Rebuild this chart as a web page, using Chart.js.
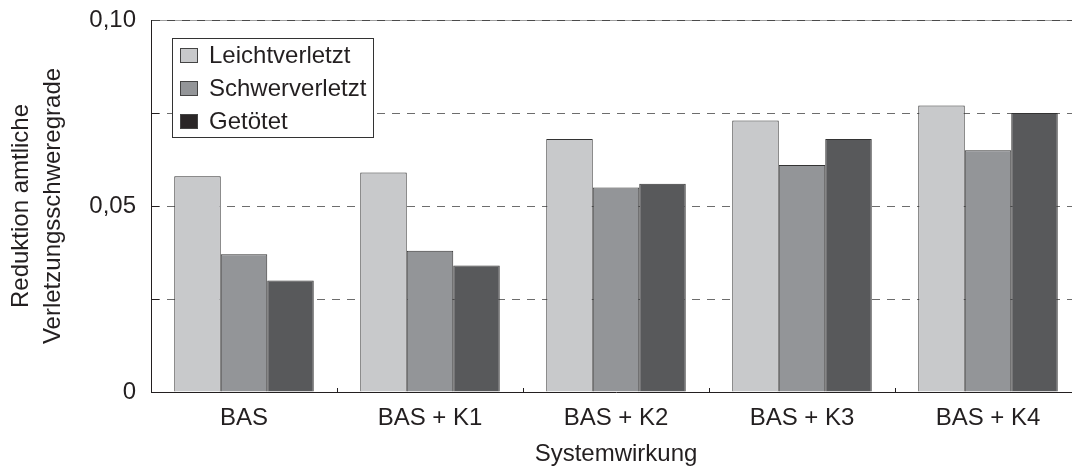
<!DOCTYPE html>
<html>
<head>
<meta charset="utf-8">
<script src="https://cdn.jsdelivr.net/npm/chart.js@4"></script>
<style>
  html, body { margin: 0; padding: 0; background: #fff; overflow: hidden; }
  #wrap { width: 1090px; height: 468px; }
</style>
</head>
<body>
<div id="wrap"><canvas id="chart"></canvas></div>
<script>
const categories = ['BAS', 'BAS + K1', 'BAS + K2', 'BAS + K3', 'BAS + K4'];
const leichtverletzt = [0.058, 0.059, 0.068, 0.073, 0.077];
const schwerverletzt = [0.037, 0.038, 0.055, 0.061, 0.065];
const getoetet = [0.030, 0.034, 0.056, 0.068, 0.075];
const seriesNames = ['Leichtverletzt', 'Schwerverletzt', 'Getötet'];
const yTickLabels = { '0': '0', '0.05': '0,05', '0.1': '0,10' };

const FONT = '"Liberation Sans", Arial, Helvetica, sans-serif';
const INK = '#231f20';
const fills = ['#c8c9cb', '#939598', '#58595b'];
const swatches = ['#c8c9cb', '#939598', '#2a2627'];

// solid light line under the dashed top gridline
const topLine = {
  id: 'topLine',
  beforeDraw(chart) {
    const ctx = chart.ctx, area = chart.chartArea;
    const py = Math.round(chart.scales.y.getPixelForValue(0.1)) + 0.5;
    ctx.save();
    ctx.strokeStyle = '#a0a0a0';
    ctx.lineWidth = 1;
    ctx.beginPath();
    ctx.moveTo(area.left, py);
    ctx.lineTo(area.right, py);
    ctx.stroke();
    ctx.restore();
  }
};

// legend box inside the plot, plus the small inward ticks
const extras = {
  id: 'extras',
  afterDraw(chart) {
    const ctx = chart.ctx;
    const area = chart.chartArea;
    const y = chart.scales.y, x = chart.scales.x;
    ctx.save();
    ctx.strokeStyle = INK;
    ctx.lineWidth = 1;
    [0.025, 0.05, 0.075].forEach(v => {
      const py = Math.round(y.getPixelForValue(v)) + 0.5;
      ctx.beginPath();
      ctx.moveTo(area.left, py);
      ctx.lineTo(area.left + 8, py);
      ctx.stroke();
    });
    for (let i = 1; i < categories.length; i++) {
      const px = Math.round((x.getPixelForValue(i - 1) + x.getPixelForValue(i)) / 2) + 0.5;
      ctx.beginPath();
      ctx.moveTo(px, area.bottom);
      ctx.lineTo(px, area.bottom - 4);
      ctx.stroke();
    }
    // legend
    const bx = area.left + 21, by = 38, bw = 201, bh = 99;
    ctx.fillStyle = '#fff';
    ctx.fillRect(bx, by, bw, bh);
    ctx.strokeStyle = '#333';
    ctx.strokeRect(bx + 0.5, by + 0.5, bw, bh);
    ctx.font = '24px ' + FONT;
    ctx.textBaseline = 'middle';
    seriesNames.forEach((name, i) => {
      const cy = by + 17 + i * 33;
      ctx.fillStyle = swatches[i];
      ctx.fillRect(bx + 8, cy - 7, 18, 15);
      ctx.strokeStyle = '#444';
      ctx.strokeRect(bx + 8.5, cy - 6.5, 17, 14);
      ctx.fillStyle = INK;
      ctx.fillText(name, bx + 37, cy + 1);
    });
    ctx.restore();
  }
};

new Chart(document.getElementById('chart'), {
  type: 'bar',
  data: {
    labels: categories,
    datasets: [
      { label: seriesNames[0], data: leichtverletzt, backgroundColor: fills[0] },
      { label: seriesNames[1], data: schwerverletzt, backgroundColor: fills[1] },
      { label: seriesNames[2], data: getoetet, backgroundColor: fills[2] }
    ].map(d => Object.assign(d, {
      borderColor: '#333',
      borderWidth: 1,
      categoryPercentage: 0.75,
      barPercentage: 1
    }))
  },
  options: {
    responsive: true,
    maintainAspectRatio: false,
    animation: false,
    layout: { padding: { top: 20, right: 9, left: 0, bottom: 0 } },
    plugins: {
      legend: { display: false },
      tooltip: { enabled: false }
    },
    scales: {
      x: {
        grid: { display: false },
        border: { display: true, color: INK, width: 1 },
        ticks: { color: INK, font: { family: FONT, size: 24 }, padding: 4 },
        title: {
          display: true,
          text: 'Systemwirkung',
          color: INK,
          font: { family: FONT, size: 24 },
          padding: { top: 0, bottom: -1 }
        },
        afterFit(scale) { scale.height = 76; }
      },
      y: {
        min: 0,
        max: 0.1,
        grid: {
          color: ctx => ctx.tick && ctx.tick.value > 0.09 ? '#4a4a4a' : '#6d6d6d',
          lineWidth: 1,
          drawTicks: false
        },
        border: { display: true, color: INK, width: 1, dash: [8, 7] },
        ticks: {
          stepSize: 0.025,
          color: INK,
          font: { family: FONT, size: 24 },
          padding: 15,
          callback(v) {
            const k = String(Math.round(v * 1000) / 1000);
            return yTickLabels[k] !== undefined ? yTickLabels[k] : '';
          }
        },
        title: {
          display: true,
          text: ['Reduktion amtliche', 'Verletzungsschweregrade'],
          color: INK,
          font: { family: FONT, size: 24, lineHeight: 1.33 },
          padding: { top: 5, bottom: 0 }
        },
        afterFit(scale) {
          scale.width = 151;
          scale.paddingTop = 0;
          scale.paddingBottom = 0;
        }
      }
    }
  },
  plugins: [topLine, extras]
});
</script>
</body>
</html>
